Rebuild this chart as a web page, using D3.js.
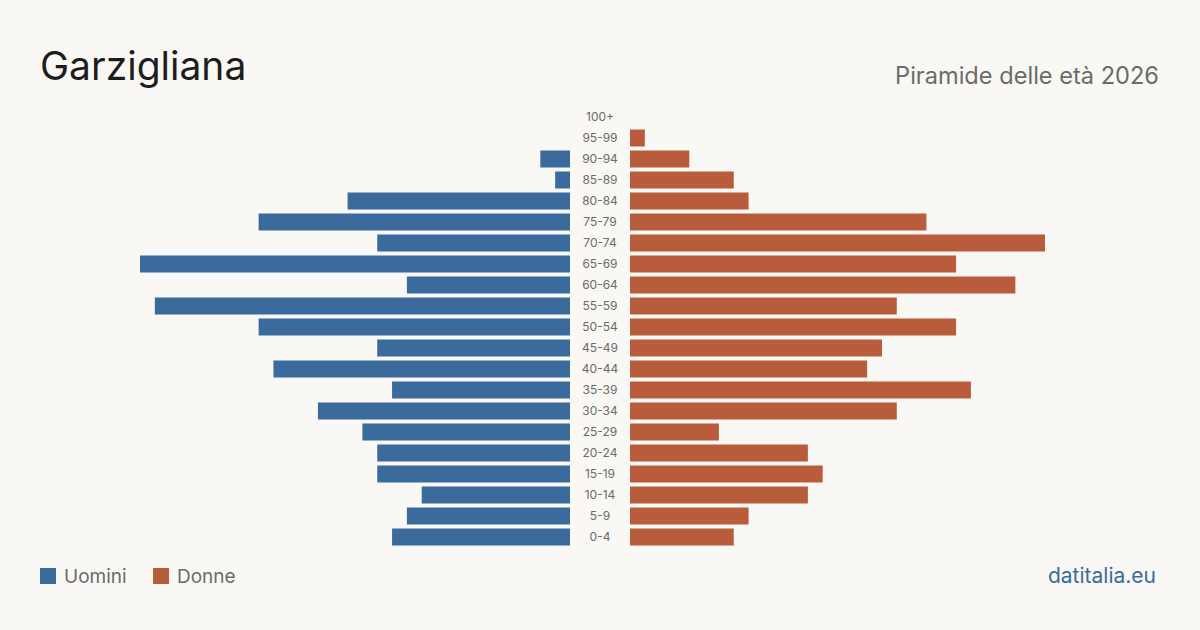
<!DOCTYPE html>
<html>
<head>
<meta charset="utf-8">
<script src="https://cdn.jsdelivr.net/npm/d3@7"></script>
<style>
  body { margin: 0; background: #f9f8f4; }
  svg { display: block; font-family: Inter, "Noto Sans", sans-serif; }
</style>
</head>
<body>
<svg width="1200" height="630"></svg>
<script>
const ageGroups = ["100+", "95-99", "90-94", "85-89", "80-84", "75-79", "70-74", "65-69", "60-64", "55-59",
  "50-54", "45-49", "40-44", "35-39", "30-34", "25-29", "20-24", "15-19", "10-14", "5-9", "0-4"];
const men   = [0, 0, 2, 1, 15, 21, 13, 29, 11, 28, 21, 13, 20, 12, 17, 14, 13, 13, 10, 11, 12];
const women = [0, 1, 4, 7, 8, 20, 28, 22, 26, 18, 22, 17, 16, 23, 18, 6, 12, 13, 12, 8, 7];

const svg = d3.select("svg");
const width = +svg.attr("width");

const blue = "#3a6b9c";
const red = "#b95c3c";

svg.append("rect").attr("width", width).attr("height", 630).attr("fill", "#f9f8f4");

// title
svg.append("text")
  .attr("x", 40).attr("y", 80)
  .attr("font-size", 39)
  .attr("fill", "#1d1d1d")
  .text("Garzigliana");

svg.append("text")
  .attr("x", 1159).attr("y", 84)
  .attr("text-anchor", "end")
  .attr("font-size", 23.6)
  .attr("fill", "#6b6b6b")
  .text("Piramide delle età 2026");

// scales
const y = d3.scaleBand()
  .domain(ageGroups)
  .range([106.5, 547.5])
  .paddingInner(4 / 21)
  .paddingOuter(2 / 21);

const xMen = d3.scaleLinear().domain([0, 29]).range([570, 140]);
const xWomen = d3.scaleLinear().domain([0, 28]).range([630, 1045]);

svg.append("g")
  .selectAll("rect")
  .data(ageGroups)
  .join("rect")
  .attr("x", (d, i) => xMen(men[i]))
  .attr("y", d => y(d))
  .attr("width", (d, i) => xMen(0) - xMen(men[i]))
  .attr("height", y.bandwidth())
  .attr("fill", blue);

svg.append("g")
  .selectAll("rect")
  .data(ageGroups)
  .join("rect")
  .attr("x", xWomen(0))
  .attr("y", d => y(d))
  .attr("width", (d, i) => xWomen(women[i]) - xWomen(0))
  .attr("height", y.bandwidth())
  .attr("fill", red);

svg.append("g")
  .selectAll("text")
  .data(ageGroups)
  .join("text")
  .attr("x", 600)
  .attr("y", d => y(d) + y.bandwidth() / 2)
  .attr("dy", "0.35em")
  .attr("text-anchor", "middle")
  .attr("font-size", 12)
  .attr("fill", "#6b6b6b")
  .text(d => d);

// legend
const legend = [{ label: "Uomini", color: blue, x: 40 }, { label: "Donne", color: red, x: 153 }];
const lg = svg.append("g").selectAll("g").data(legend).join("g")
  .attr("transform", d => `translate(${d.x},568)`);
lg.append("rect").attr("width", 16).attr("height", 16).attr("fill", d => d.color);
lg.append("text")
  .attr("x", 24).attr("y", 8).attr("dy", "0.35em")
  .attr("font-size", 19)
  .attr("fill", "#6b6b6b")
  .text(d => d.label);

svg.append("text")
  .attr("x", 1156).attr("y", 583)
  .attr("text-anchor", "end")
  .attr("font-size", 21)
  .attr("fill", blue)
  .text("datitalia.eu");
</script>
</body>
</html>
